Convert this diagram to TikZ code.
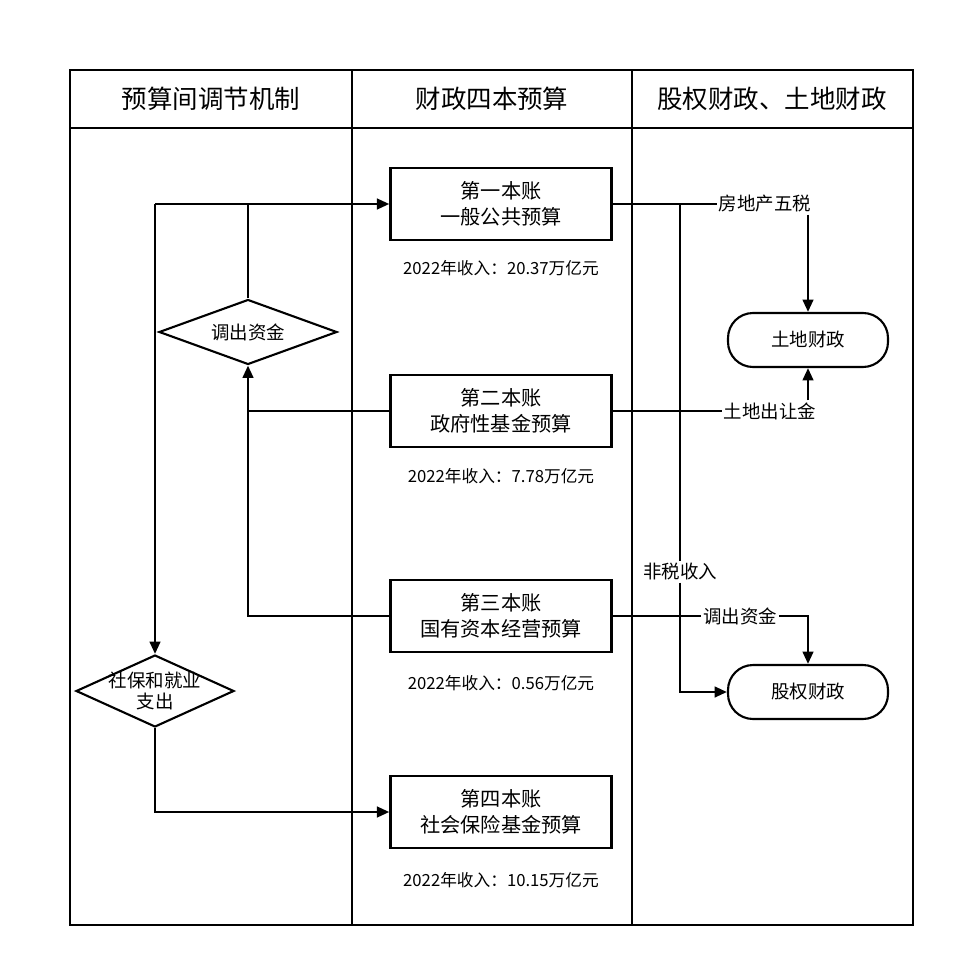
\documentclass[tikz,border=0pt]{standalone}
\usepackage{fontspec}
\setmainfont{Noto Sans CJK SC}
\usetikzlibrary{shapes.geometric,arrows.meta}
\tikzset{
	account/.style={rectangle, draw, line width=1.4pt, minimum width=4.42cm, minimum height=1.44cm, align=center, font=\fontsize{11.5}{15}\selectfont},
	choice/.style={diamond, draw, line width=1.2pt, aspect=2.45, inner sep=0pt, align=center, font=\fontsize{10.5}{12}\selectfont},
	pool/.style={rectangle, rounded corners=0.5cm, draw, line width=1.2pt, minimum width=3.2cm, minimum height=1.08cm, font=\fontsize{10.5}{12}\selectfont},
	flow/.style={line width=1.4pt, -{Triangle[length=7pt,width=6pt]}},
	link/.style={line width=1.4pt},
	income/.style={font=\fontsize{9.5}{11}\selectfont},
	tag/.style={fill=white, inner sep=1pt, font=\fontsize{10.5}{12}\selectfont}
}
\begin{document}
\begin{tikzpicture}[x=0.02cm, y=-0.02cm]
	\useasboundingbox (0,0) rectangle (960,973);
	
	%Frame and lanes
	\draw[line width=0.8pt] (70,70) rectangle (913,925);
	\draw[line width=0.8pt] (70,128) -- (913,128);
	\draw[line width=0.8pt] (352,70) -- (352,925);
	\draw[line width=0.8pt] (632,70) -- (632,925);
	\node (laneA) at (211,99) [font=\fontsize{14.5}{16}\selectfont]{预算间调节机制};
	\node (laneB) at (492,99) [font=\fontsize{14.5}{16}\selectfont]{财政四本预算};
	\node (laneC) at (772,99) [font=\fontsize{14.5}{16}\selectfont]{股权财政、土地财政};
	
	%Four accounts
	\node (first) at (501,204) [account]{第一本账\\一般公共预算};
	\node (second) at (501,411) [account]{第二本账\\政府性基金预算};
	\node (third) at (501,616) [account]{第三本账\\国有资本经营预算};
	\node (fourth) at (501,812) [account]{第四本账\\社会保险基金预算};
	\node (firstIncome) at (501,268) [income]{2022年收入：20.37万亿元};
	\node (secondIncome) at (501,476) [income]{2022年收入：7.78万亿元};
	\node (thirdIncome) at (501,683) [income]{2022年收入：0.56万亿元};
	\node (fourthIncome) at (501,880) [income]{2022年收入：10.15万亿元};
	
	%Diamonds
	\node (transfer) at (248,332) [choice, minimum width=3.56cm, minimum height=1.3cm]{调出资金};
	\node (social) at (155,691) [choice, minimum width=3.16cm, minimum height=1.44cm,
	label={[align=center, font=\fontsize{10.5}{12}\selectfont]center:社保和就业\\支出}]{};
	
	%Land and equity finance
	\node (land) at (808,340) [pool]{土地财政};
	\node (equity) at (808,692) [pool]{股权财政};
	\coordinate (split) at (155,204);
	\coordinate (fork) at (680,204);
	\node (estateTax) at (765,204) [tag]{房地产五税};
	\node (landSale) at (770,411) [tag]{土地出让金};
	\node (stateTransfer) at (740,616) [tag]{调出资金};
	\node (nonTax) at (680,572) [tag]{非税收入};
	
	%Connectors
	\draw[flow] (transfer.north) |- (first.west);
	\draw[link] (split) -- (transfer.north |- first.west);
	\draw[flow] (split) -- (social.north);
	\draw[flow] (second.west) -| (transfer.south);
	\draw[link] (third.west) -| (transfer.south |- second.west);
	\draw[flow] (social.south) |- (fourth.west);
	\draw[link] (first.east) -- (estateTax.west);
	\draw[link] (fork) -- (nonTax.north);
	\draw[flow] (nonTax.south) |- (equity.west);
	\draw[flow] (estateTax.south -| land.north) -- (land.north);
	\draw[link] (second.east) -- (landSale.west);
	\draw[flow] (landSale.north -| land.south) -- (land.south);
	\draw[link] (third.east) -- (stateTransfer.west);
	\draw[flow] (stateTransfer.east) -| (equity.north);
	
\end{tikzpicture}
\end{document}
